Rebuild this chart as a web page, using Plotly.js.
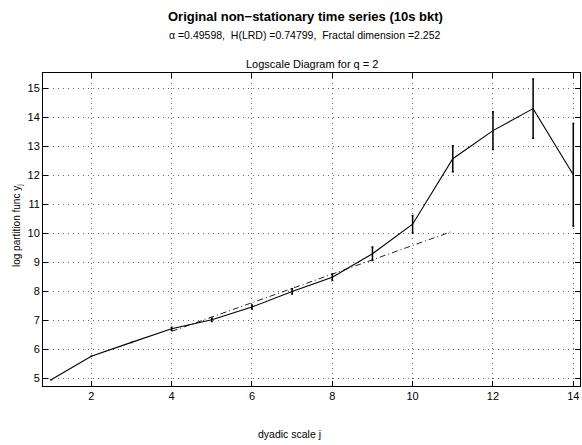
<!DOCTYPE html>
<html>
<head>
<meta charset="utf-8">
<script src="https://cdn.plot.ly/plotly-3.0.1.min.js"></script>
<style>html,body{margin:0;padding:0;background:#fff;}#chart{width:582px;height:445px;}</style>
</head>
<body>
<div id="chart"></div>
<script>
const scaleJ = [1, 2, 3, 4, 5, 6, 7, 8, 9, 10, 11, 12, 13, 14];
const logPartition = [4.95, 5.76, 6.24, 6.71, 7.02, 7.46, 8.0, 8.49, 9.3, 10.32, 12.58, 13.55, 14.31, 12.03];
const errHalf = [0, 0, 0, 0.05, 0.06, 0.07, 0.09, 0.11, 0.23, 0.3, 0.45, 0.65, 1.02, 1.77];
const fitJ = [4, 11];
const fitY = [6.62, 10.08];
const xTicks = [2, 4, 6, 8, 10, 12, 14];
const yTicks = [5, 6, 7, 8, 9, 10, 11, 12, 13, 14, 15];

const FONT = 'Liberation Sans, Arial, sans-serif';

const traces = [
  {
    x: fitJ, y: fitY, type: 'scatter', mode: 'lines',
    line: {color: '#222', width: 1, dash: '6px,3px,1px,3px'},
    hoverinfo: 'skip', showlegend: false
  },
  {
    x: scaleJ, y: logPartition, type: 'scatter', mode: 'lines',
    line: {color: '#000', width: 1.1},
    error_y: {type: 'data', array: errHalf, visible: true, color: '#000', thickness: 1.5, width: 1},
    showlegend: false
  }
];

const gridDash = '1px,4px';

const layout = {
  width: 582, height: 445,
  margin: {l: 43, r: 2, t: 73, b: 59},
  paper_bgcolor: '#fff', plot_bgcolor: '#fff',
  font: {family: FONT, size: 11, color: '#000'},
  xaxis: {
    range: [0.798, 14.167], tickvals: xTicks, ticktext: xTicks.map(String),
    ticks: 'inside', ticklen: 5, tickcolor: '#000',
    showline: true, linecolor: '#000', linewidth: 1, mirror: 'ticks',
    showgrid: true, gridcolor: '#666', griddash: gridDash, gridwidth: 1,
    zeroline: false, tickfont: {size: 11}
  },
  yaxis: {
    range: [4.734, 15.54], tickvals: yTicks, ticktext: yTicks.map(String),
    ticks: 'inside', ticklen: 5, tickcolor: '#000',
    showline: true, linecolor: '#000', linewidth: 1, mirror: 'ticks',
    showgrid: true, gridcolor: '#666', griddash: gridDash, gridwidth: 1,
    zeroline: false, tickfont: {size: 11}
  },
  annotations: [
    {text: '<b>Original non\u2212stationary time series (10s bkt)</b>', xref: 'paper', yref: 'paper',
     x: (305 - 43) / 537, y: 1 + (73 - 17) / 313, xanchor: 'center', yanchor: 'middle', showarrow: false,
     font: {size: 13, family: FONT}},
    {text: '\u03b1 =0.49598,  H(LRD) =0.74799,  Fractal dimension =2.252', xref: 'paper', yref: 'paper',
     x: (305 - 43) / 537, y: 1 + (73 - 35) / 313, xanchor: 'center', yanchor: 'middle', showarrow: false,
     font: {size: 10.5, family: FONT}},
    {text: 'Logscale Diagram for q = 2', xref: 'paper', yref: 'paper',
     x: (312 - 43) / 537, y: 1 + (73 - 64) / 313, xanchor: 'center', yanchor: 'middle', showarrow: false,
     font: {size: 11, family: FONT}},
    {text: 'dyadic scale j', xref: 'paper', yref: 'paper',
     x: (289 - 43) / 537, y: -(434 - 386) / 313, xanchor: 'center', yanchor: 'middle', showarrow: false,
     font: {size: 10.5, family: FONT}},
    {text: 'log partition func y<sub>j</sub>', xref: 'paper', yref: 'paper',
     x: -(43 - 17) / 537, y: (386 - 226) / 313, xanchor: 'center', yanchor: 'middle', showarrow: false, textangle: -90,
     font: {size: 10, family: FONT}}
  ]
};

Plotly.newPlot('chart', traces, layout, {staticPlot: true, displayModeBar: false});
</script>
</body>
</html>
